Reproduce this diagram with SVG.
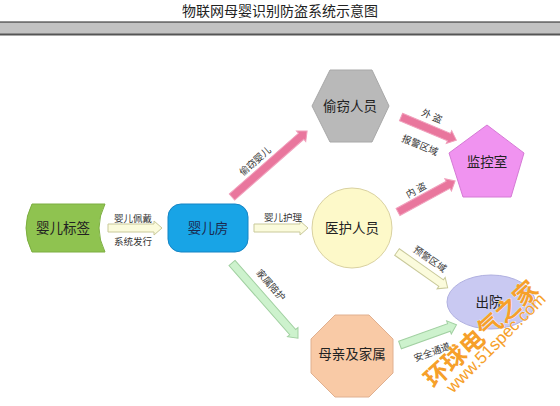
<svg xmlns="http://www.w3.org/2000/svg" width="560" height="406" viewBox="0 0 560 406">
<style>
text{font-family:"Liberation Sans","Noto Sans CJK SC",sans-serif;text-anchor:middle;dominant-baseline:central;fill:#222}
.n{font-size:13.5px}
.l{font-size:9.5px;fill:#333}
.pink{fill:#e9769d;stroke:#f0a0bc;stroke-width:1}
.yel{fill:#fbfbdc;stroke:#c9c99a;stroke-width:1}
.grn{fill:#cdf2cd;stroke:#a2d0a2;stroke-width:1}
.wm{fill:#f6a02a;stroke:#fff;stroke-width:0.6;paint-order:stroke}
</style>
<rect width="560" height="406" fill="#fff"/>
<g id="title">
<text x="280" y="11" style="font-size:14px">物联网母婴识别防盗系统示意图</text>
<rect x="0" y="22" width="560" height="12" fill="#c2c2c2"/>
<line x1="0" y1="22" x2="560" y2="22" stroke="#222" stroke-width="1.2"/>
<line x1="0" y1="34.5" x2="560" y2="34.5" stroke="#555" stroke-width="2"/>
</g>
<g id="connectors">
<path class="yel" transform="translate(108,228)" d="M0,-4 H46 V-7 L54,0 L46,7 V4 H0 Z"/>
<path class="yel" transform="translate(254,228)" d="M0,-4 H46 V-7 L54,0 L46,7 V4 H0 Z"/>
<path class="pink" transform="translate(232,197) rotate(-41.3)" d="M0,-4 H92 V-7 L100,0 L92,7 V4 H0 Z"/>
<path class="pink" transform="translate(401,117) rotate(22.7)" d="M0,-4 H52 V-7 L60,0 L52,7 V4 H0 Z"/>
<path class="pink" transform="translate(398,212) rotate(-28.5)" d="M0,-4 H57 V-7 L65,0 L57,7 V4 H0 Z"/>
<path class="yel" transform="translate(397,252) rotate(35.2)" d="M0,-4 H54 V-7 L62,0 L54,7 V4 H0 Z"/>
<path class="grn" transform="translate(232,263) rotate(48.7)" d="M0,-4 H92 V-7 L100,0 L92,7 V4 H0 Z"/>
<path class="grn" transform="translate(400,345) rotate(-19.7)" d="M0,-4 H52 V-7 L60,0 L52,7 V4 H0 Z"/>
<text class="l" x="133" y="218">婴儿佩戴</text>
<text class="l" x="133" y="241">系统发行</text>
<text class="l" x="283" y="217">婴儿护理</text>
<text class="l" transform="translate(255,161) rotate(-41.3)">偷窃婴儿</text>
<text class="l" transform="translate(432,116) rotate(22.7)">外 盗</text>
<text class="l" transform="translate(420,145) rotate(22.7)">报警区域</text>
<text class="l" transform="translate(416,190) rotate(-28.5)">内 盗</text>
<text class="l" transform="translate(430,259) rotate(35.2)">预警区域</text>
<text class="l" transform="translate(271,285) rotate(48.7)">家属陪护</text>
<text class="l" transform="translate(432,352) rotate(-19.7)">安全通道</text>
</g>
<g id="tag">
<path d="M32,204 L105,204 Q93,228 105,252 L32,252 Q20,228 32,204 Z" fill="#8fc350" stroke="#7cae40"/>
<text class="n" x="63" y="228">婴儿标签</text>
</g>
<g id="nursery">
<rect x="168" y="204" width="80" height="48" rx="13" fill="#18a4e6" stroke="#1584c4"/>
<text class="n" x="208" y="228" style="fill:#1a2a50">婴儿房</text>
</g>
<g id="thief">
<polygon points="312,106 330,70 372,70 389,106 372,142 330,142" fill="#b9b9b9" stroke="#a8a8a8"/>
<text class="n" x="350" y="106">偷窃人员</text>
</g>
<g id="nurse">
<circle cx="352" cy="228" r="40" fill="#fdf9c9" stroke="#d9d1a0"/>
<text class="n" x="352" y="228">医护人员</text>
</g>
<g id="monitor">
<polygon points="487,125 524,153 511,197 463,197 449,153" fill="#f093f0" stroke="#d57ad5"/>
<text class="n" x="487" y="162">监控室</text>
</g>
<g id="discharge">
<ellipse cx="491" cy="302" rx="44" ry="27" fill="#c9c9f2" stroke="#b0b0e0"/>
<text class="n" x="489" y="302">出院</text>
</g>
<g id="family">
<polygon points="335,315 369,315 393,339 393,373 369,397 335,397 311,373 311,339" fill="#f9caa6" stroke="#e0b090"/>
<text class="n" x="352" y="354">母亲及家属</text>
</g>
<g id="watermark">
<text class="wm" transform="translate(481,334) rotate(-42.5)" style="font-size:24px;font-weight:bold">环球电气之家</text>
<text class="wm" transform="translate(496,343) rotate(-45)" style="font-size:17px">www.51spec.com</text>
</g>
</svg>
